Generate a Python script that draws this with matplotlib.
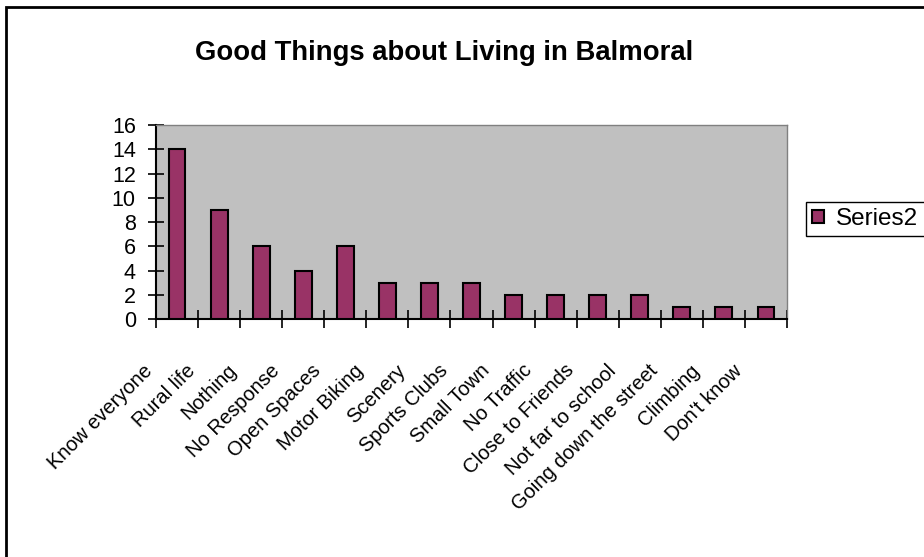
import numpy as np
import matplotlib.pyplot as plt
from matplotlib.patches import Rectangle
from matplotlib.transforms import ScaledTranslation

plt.rcParams['font.family'] = ['Liberation Sans', 'DejaVu Sans']

# Survey answers
categories = ["Know everyone", "Rural life", "Nothing", "No Response", "Open Spaces",
              "Motor Biking", "Scenery", "Sports Clubs", "Small Town", "No Traffic",
              "Close to Friends", "Not far to school", "Going down the street",
              "Climbing", "Don't know"]
counts = [14, 9, 6, 4, 6, 3, 3, 3, 2, 2, 2, 2, 1, 1, 1]
yticks = [0, 2, 4, 6, 8, 10, 12, 14, 16]

fig = plt.figure(figsize=(9.24, 5.57), dpi=100)
ax = fig.add_axes([156/924, 1 - 319/557, (787 - 156)/924, (319 - 125)/557])
ax.set_facecolor('#C0C0C0')

x = np.arange(len(categories))
ax.bar(x, counts, width=0.4, color='#993366', edgecolor='black', linewidth=1.5,
       label='Series2', zorder=3)

ax.set_xlim(-0.5, len(categories) - 0.5)
ax.set_ylim(0, 16)
ax.set_yticks(yticks)
ax.tick_params(axis='y', direction='inout', length=11, width=1.2, labelsize=15.5, pad=9)

# tick marks sit between categories, labels under the bars
ax.set_xticks(np.arange(len(categories) + 1) - 0.5)
ax.set_xticklabels([])
ax.set_xticks(x, minor=True)
ax.set_xticklabels(categories, minor=True, rotation=45, ha='right', va='center',
                   rotation_mode='anchor', fontsize=14.5)
ax.tick_params(axis='x', which='major', direction='inout', length=13, width=1.2)
ax.tick_params(axis='x', which='minor', length=0, pad=35)
shift = ScaledTranslation(-0.27, 0, fig.dpi_scale_trans)
for lbl in ax.get_xticklabels(minor=True):
    lbl.set_transform(lbl.get_transform() + shift)

for side in ['left', 'bottom']:
    ax.spines[side].set_color('black')
    ax.spines[side].set_linewidth(1.5)
for side in ['top', 'right']:
    ax.spines[side].set_color('#808080')
    ax.spines[side].set_linewidth(1)

fig.text(444/924, 1 - 53/557, 'Good Things about Living in Balmoral', ha='center',
         va='center', fontsize=19.8, fontweight='bold')

fig.legend(loc='upper left', bbox_to_anchor=(806/924, 1 - 202/557), fontsize=17.5,
           frameon=True, fancybox=False, edgecolor='black', framealpha=1,
           borderaxespad=0, handlelength=0.5, handleheight=0.5, handletextpad=0.5,
           borderpad=0.25)

# chart border
fig.patches.append(Rectangle((6/924, -0.1), 1.2, 1 - 7/557 + 0.1,
                             transform=fig.transFigure, fill=False,
                             edgecolor='black', linewidth=2))

fig.savefig('out.png', dpi=100)
